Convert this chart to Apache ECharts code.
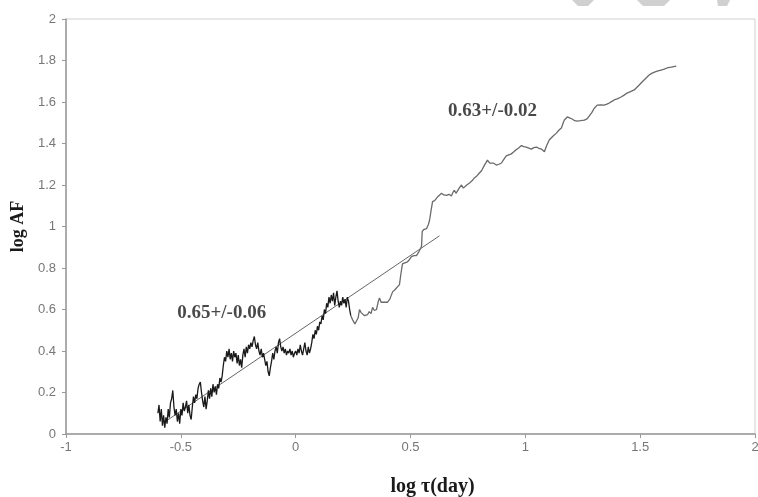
<!DOCTYPE html>
<html><head><meta charset="utf-8">
<script src="https://cdn.jsdelivr.net/npm/echarts@6/dist/echarts.min.js"></script>
<style>html,body{margin:0;padding:0;background:#fff}#c{width:758px;height:497px}</style>
</head><body><div id="c"></div>
<script>
// x axis / y axis ticks
const xTicks = [-1, -0.5, 0, 0.5, 1, 1.5, 2];
const yTicks = [0, 0.2, 0.4, 0.6, 0.8, 1, 1.2, 1.4, 1.6, 1.8, 2];

// dense noisy part: log tau from -0.600 in steps of 0.005
const noisyStartX = -0.600;
const noisyStepX = 0.005;
const noisyY = [
 0.10,0.14,0.06,0.12,0.04,0.09,0.03,0.08,0.05,0.12,
 0.08,0.15,0.17,0.21,0.13,0.09,0.12,0.06,0.10,0.05,
 0.12,0.09,0.15,0.11,0.13,0.16,0.10,0.14,0.09,0.07,
 0.13,0.18,0.15,0.19,0.17,0.22,0.24,0.25,0.20,0.16,
 0.13,0.18,0.12,0.16,0.21,0.17,0.22,0.18,0.24,0.20,
 0.23,0.19,0.24,0.22,0.27,0.25,0.28,0.33,0.37,0.35,
 0.40,0.37,0.41,0.36,0.39,0.35,0.40,0.37,0.39,0.34,
 0.38,0.33,0.36,0.32,0.38,0.41,0.37,0.42,0.39,0.43,
 0.41,0.44,0.42,0.45,0.47,0.43,0.41,0.44,0.40,0.38,
 0.41,0.37,0.39,0.36,0.33,0.35,0.30,0.28,0.32,0.35,
 0.39,0.36,0.40,0.42,0.39,0.44,0.46,0.42,0.40,0.42,
 0.39,0.41,0.38,0.40,0.39,0.41,0.38,0.40,0.37,0.39,
 0.40,0.38,0.41,0.39,0.43,0.40,0.38,0.41,0.44,0.40,
 0.38,0.42,0.39,0.41,0.44,0.48,0.46,0.50,0.48,0.52,
 0.50,0.54,0.53,0.57,0.55,0.60,0.58,0.63,0.61,0.66,
 0.63,0.67,0.64,0.68,0.62,0.66,0.69,0.64,0.61,0.64,
 0.62,0.66,0.63,0.65,0.61,0.66,0.64,0.60,0.57
];

// smoother upper part [log tau, log AF]
const upperCurve = [
 [0.248,0.55],[0.258,0.53],[0.265,0.535],[0.272,0.56],[0.278,0.60],[0.285,0.585],[0.29,0.58],[0.3,0.57],
 [0.313,0.575],[0.32,0.59],[0.328,0.58],[0.335,0.61],[0.343,0.595],[0.352,0.60],[0.36,0.64],[0.365,0.655],
 [0.372,0.635],[0.378,0.63],[0.388,0.635],[0.4,0.635],[0.41,0.65],[0.422,0.685],[0.432,0.695],[0.44,0.70],
 [0.452,0.72],[0.458,0.77],[0.465,0.82],[0.475,0.825],[0.487,0.83],[0.495,0.84],[0.504,0.855],[0.515,0.86],
 [0.526,0.86],[0.535,0.875],[0.542,0.89],[0.548,0.905],[0.551,0.975],[0.557,0.985],[0.57,0.99],[0.578,1.01],
 [0.583,1.03],[0.59,1.08],[0.596,1.12],[0.605,1.125],[0.613,1.13],[0.62,1.145],[0.628,1.14],[0.635,1.16],
 [0.645,1.152],[0.657,1.15],[0.668,1.155],[0.678,1.147],[0.685,1.165],[0.691,1.175],[0.698,1.16],[0.704,1.16],
 [0.712,1.185],[0.722,1.20],[0.73,1.185],[0.735,1.19],[0.745,1.2],[0.757,1.21],[0.768,1.22],[0.778,1.234],
 [0.79,1.245],[0.8,1.258],[0.81,1.27],[0.822,1.296],[0.83,1.31],[0.835,1.32],[0.845,1.305],[0.852,1.30],
 [0.862,1.305],[0.874,1.296],[0.885,1.3],[0.896,1.306],[0.907,1.325],[0.917,1.34],[0.928,1.345],[0.939,1.35],
 [0.95,1.36],[0.96,1.37],[0.972,1.38],[0.983,1.39],[0.993,1.385],[1.004,1.383],[1.015,1.378],[1.026,1.373],
 [1.037,1.38],[1.048,1.383],[1.06,1.376],[1.07,1.373],[1.083,1.36],[1.093,1.39],[1.104,1.417],[1.12,1.435],
 [1.135,1.45],[1.147,1.465],[1.157,1.475],[1.165,1.5],[1.17,1.513],[1.183,1.528],[1.195,1.522],[1.204,1.518],
 [1.215,1.51],[1.226,1.508],[1.24,1.51],[1.257,1.513],[1.27,1.52],[1.278,1.528],[1.29,1.55],[1.3,1.57],
 [1.313,1.585],[1.328,1.586],[1.343,1.585],[1.355,1.59],[1.365,1.595],[1.377,1.603],[1.387,1.61],[1.4,1.615],
 [1.417,1.624],[1.43,1.633],[1.443,1.643],[1.458,1.65],[1.474,1.658],[1.485,1.67],[1.496,1.682],[1.507,1.695],
 [1.517,1.706],[1.528,1.718],[1.539,1.73],[1.55,1.738],[1.565,1.745],[1.578,1.75],[1.591,1.754],[1.605,1.758],
 [1.617,1.764],[1.635,1.768],[1.657,1.773]
];

// fitted line endpoints
const fitLine = [[-0.57, 0.058], [0.626, 0.955]];

// slope annotations
const annotations = [
 {text: '0.65+/-0.06', x: -0.322, y: 0.583},
 {text: '0.63+/-0.02', x: 0.857, y: 1.557}
];

const noisyCurve = noisyY.map((y, i) => [+(noisyStartX + i * noisyStepX).toFixed(3), y]);
const upperFull = [noisyCurve[noisyCurve.length - 1]].concat(upperCurve);

const chart = echarts.init(document.getElementById('c'));
const tickFont = {fontFamily: 'Liberation Sans, Arial, sans-serif', fontSize: 13, color: '#777'};
const serif = 'Liberation Serif, Times New Roman, serif';
chart.setOption({
  animation: false,
  backgroundColor: '#fff',
  grid: {left: 66, right: 3, top: 19, bottom: 63, show: true, borderColor: '#cfcfcf', borderWidth: 1,
         containLabel: false, outerBoundsMode: 'none'},
  xAxis: {
    type: 'value', min: -1, max: 2, interval: 0.5,
    name: 'log τ(day)', nameLocation: 'middle', nameGap: 43,
    nameTextStyle: {fontFamily: serif, fontWeight: 'bold', fontSize: 20, color: '#1a1a1a', padding: [0, 0, 0, 44]},
    axisLine: {onZero: false, lineStyle: {color: '#999', width: 1.5}},
    axisTick: {show: true, length: 4, lineStyle: {color: '#999'}},
    axisLabel: Object.assign({margin: 7, formatter: v => xTicks.includes(v) ? String(v) : ''}, tickFont),
    splitLine: {show: false}
  },
  yAxis: {
    type: 'value', min: 0, max: 2, interval: 0.2,
    name: 'log AF', nameLocation: 'middle', nameGap: 37, nameRotate: 90,
    nameTextStyle: {fontFamily: serif, fontWeight: 'bold', fontSize: 18, color: '#1a1a1a'},
    axisLine: {show: true, onZero: false, lineStyle: {color: '#999', width: 1.5}},
    axisTick: {show: true, length: 4, lineStyle: {color: '#999'}},
    axisLabel: Object.assign({margin: 10, formatter: v => {
      const t = yTicks.find(k => Math.abs(k - v) < 1e-9);
      return t === undefined ? '' : String(t);
    }}, tickFont),
    splitLine: {show: false}
  },
  series: [
    {type: 'line', data: fitLine, showSymbol: false, lineStyle: {color: '#666', width: 1}, z: 3},
    {type: 'line', data: noisyCurve, showSymbol: false, lineStyle: {color: '#1a1a1a', width: 1.3}, z: 4},
    {type: 'line', data: upperFull, showSymbol: false, lineStyle: {color: '#6a6a6a', width: 1.3}, z: 4},
    {type: 'scatter', symbolSize: 0, z: 5,
     data: annotations.map(a => ({value: [a.x, a.y], name: a.text})),
     label: {show: true, position: 'inside', formatter: p => p.name,
       fontFamily: serif, fontWeight: 'bold', fontSize: 19, color: '#1a1a1a'}}
  ],
  graphic: [
    {type: 'polygon', shape: {points: [[572,0],[594,0],[588,6],[578,6]]}, style: {fill: '#d0d0d0'}},
    {type: 'polygon', shape: {points: [[637,0],[670,0],[664,6],[643,6]]}, style: {fill: '#d0d0d0'}},
    {type: 'polygon', shape: {points: [[717,0],[730,0],[727,6],[718,6]]}, style: {fill: '#d0d0d0'}}
  ]
});
</script>
</body></html>
